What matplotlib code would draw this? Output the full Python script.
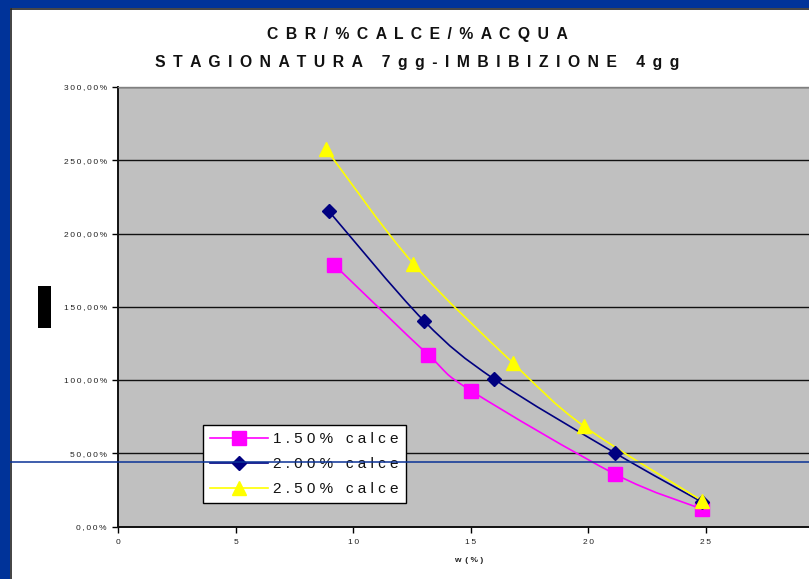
import matplotlib
matplotlib.use("Agg")
import matplotlib.pyplot as plt
from matplotlib.path import Path
from matplotlib.patches import PathPatch, Rectangle
from matplotlib.lines import Line2D
from matplotlib.ticker import FuncFormatter

plt.rcParams['font.family'] = ['Liberation Sans', 'DejaVu Sans']

# data (w %, CBR %)
w_150 = [9.2, 13.2, 15.0, 21.15, 24.85]
cbr_150 = [178.5, 117.0, 92.8, 35.6, 11.8]
w_200 = [8.95, 13.0, 16.0, 21.15, 24.85]
cbr_200 = [215.5, 140.5, 100.5, 50.0, 16.5]
w_250 = [8.85, 12.55, 16.8, 19.8, 24.85]
cbr_250 = [257.5, 179.5, 111.5, 68.6, 17.4]

labels = ["1.50% calce", "2.00% calce", "2.50% calce"]
colors = ["#FF00FF", "#000080", "#FFFF00"]
markers = ["s", "D", "^"]
msizes = [9.5, 7, 9.5]

yticks = [0, 50, 100, 150, 200, 250, 300]
xticks = [0, 5, 10, 15, 20, 25]

title1 = "CBR/%CALCE/%ACQUA"
title2 = "STAGIONATURA 7gg-IMBIBIZIONE 4gg"

THIN = "\u2009"


def spaced(s, gap=" ", word="   "):
    # imitate the wide letter spacing of the original
    words = s.split(" ")
    return word.join(gap.join(wd) for wd in words)


def smooth_path(xs, ys):
    # catmull-rom style smoothing like the spreadsheet "smoothed line"
    pts = list(zip(xs, ys))
    verts = [pts[0]]
    codes = [Path.MOVETO]
    n = len(pts)
    for i in range(n - 1):
        p0 = pts[i - 1] if i > 0 else pts[i]
        p1 = pts[i]
        p2 = pts[i + 1]
        p3 = pts[i + 2] if i + 2 < n else pts[i + 1]
        c1 = (p1[0] + (p2[0] - p0[0]) / 6, p1[1] + (p2[1] - p0[1]) / 6)
        c2 = (p2[0] - (p3[0] - p1[0]) / 6, p2[1] - (p3[1] - p1[1]) / 6)
        verts += [c1, c2, p2]
        codes += [Path.CURVE4] * 3
    return Path(verts, codes)


W, H = 809, 579
fig = plt.figure(figsize=(W / 100, H / 100), dpi=100, facecolor="white")

# blue slide frame (left and top)
frame = "#003399"
fig.patches.append(Rectangle((0, 0), 10 / W, 1, transform=fig.transFigure,
                             facecolor=frame, edgecolor="none", zorder=1))
fig.patches.append(Rectangle((0, 1 - 8 / H), 1, 8 / H, transform=fig.transFigure,
                             facecolor=frame, edgecolor="none", zorder=1))
fig.lines.append(Line2D([10.5 / W, 10.5 / W], [0, 1 - 8.5 / H], transform=fig.transFigure,
                        color="#222222", lw=1.2, zorder=2))
fig.lines.append(Line2D([10.5 / W, 1], [1 - 8.5 / H, 1 - 8.5 / H], transform=fig.transFigure,
                        color="#222222", lw=1.2, zorder=2))

ax = fig.add_axes([118 / W, 52.5 / H, 1 - 118 / W, 439.5 / H])
ax.set_facecolor("#C0C0C0")
ax.set_xlim(0, (W - 118) / 23.52)
ax.set_ylim(0, 300)

ax.set_yticks(yticks)
ax.set_xticks(xticks)
ax.yaxis.set_major_formatter(FuncFormatter(
    lambda v, p: spaced(("%.2f" % v).replace(".", ",") + "%", THIN)))
ax.xaxis.set_major_formatter(FuncFormatter(lambda v, p: spaced("%d" % v, THIN)))
ax.tick_params(axis="both", direction="out", length=4, width=1, color="black",
               labelsize=6, labelcolor="#222222")
ax.tick_params(axis="y", pad=4)
ax.tick_params(axis="x", pad=5)
ax.grid(axis="y", color="#111111", lw=1)
ax.set_axisbelow(True)
for s in ["left", "bottom"]:
    ax.spines[s].set_linewidth(1.4)
    ax.spines[s].set_color("#111111")
ax.spines["top"].set_color("#808080")
ax.spines["top"].set_linewidth(1)
ax.spines["right"].set_visible(False)

series = [(w_150, cbr_150), (w_200, cbr_200), (w_250, cbr_250)]
handles = []
for (xs, ys), lab, c, m, ms in zip(series, labels, colors, markers, msizes):
    ax.add_patch(PathPatch(smooth_path(xs, ys), facecolor="none", edgecolor=c,
                           lw=1.2, zorder=3))
    ax.plot(xs, ys, linestyle="none", marker=m, markersize=ms, color=c,
            markeredgecolor=c, zorder=4)
    handles.append(Line2D([], [], color=c, lw=1.2, marker=m, markersize=ms,
                          markeredgecolor=c, label=spaced(lab)))

ax.set_xlabel("w  ( % )", fontsize=6, fontweight="bold", color="#222222")
ax.xaxis.set_label_coords(0.5 + 5 / (W - 118), -0.07)

leg = ax.legend(handles=handles, loc="lower left",
                bbox_to_anchor=(203 / W, (H - 503) / H), bbox_transform=fig.transFigure,
                borderaxespad=0, fancybox=False, framealpha=1, edgecolor="black",
                fontsize=11, handlelength=3.8, handletextpad=0.35, labelspacing=0.72,
                borderpad=0.45)
leg.get_frame().set_linewidth(1)
for t in leg.get_texts():
    t.set_color("#111111")

tgap = " " + THIN
fig.text(417 / W, 1 - 35 / H, spaced(title1, tgap, tgap + " " + tgap), ha="center",
         va="center", fontsize=11.3, fontweight="bold", color="#111111")
fig.text(417 / W, 1 - 62 / H, spaced(title2, tgap, tgap + " " + tgap), ha="center",
         va="center", fontsize=11.3, fontweight="bold", color="#111111")

# covered axis title block and the stray blue line
fig.patches.append(Rectangle((38 / W, 1 - 328 / H), 13 / W, 42 / H,
                             transform=fig.transFigure, facecolor="black",
                             edgecolor="none", zorder=5))
fig.lines.append(Line2D([10 / W, 1], [1 - 461.7 / H, 1 - 461.7 / H],
                        transform=fig.transFigure, color="#0A3296", lw=1.1, zorder=10))

fig.savefig("out.png", dpi=100, facecolor="white")
